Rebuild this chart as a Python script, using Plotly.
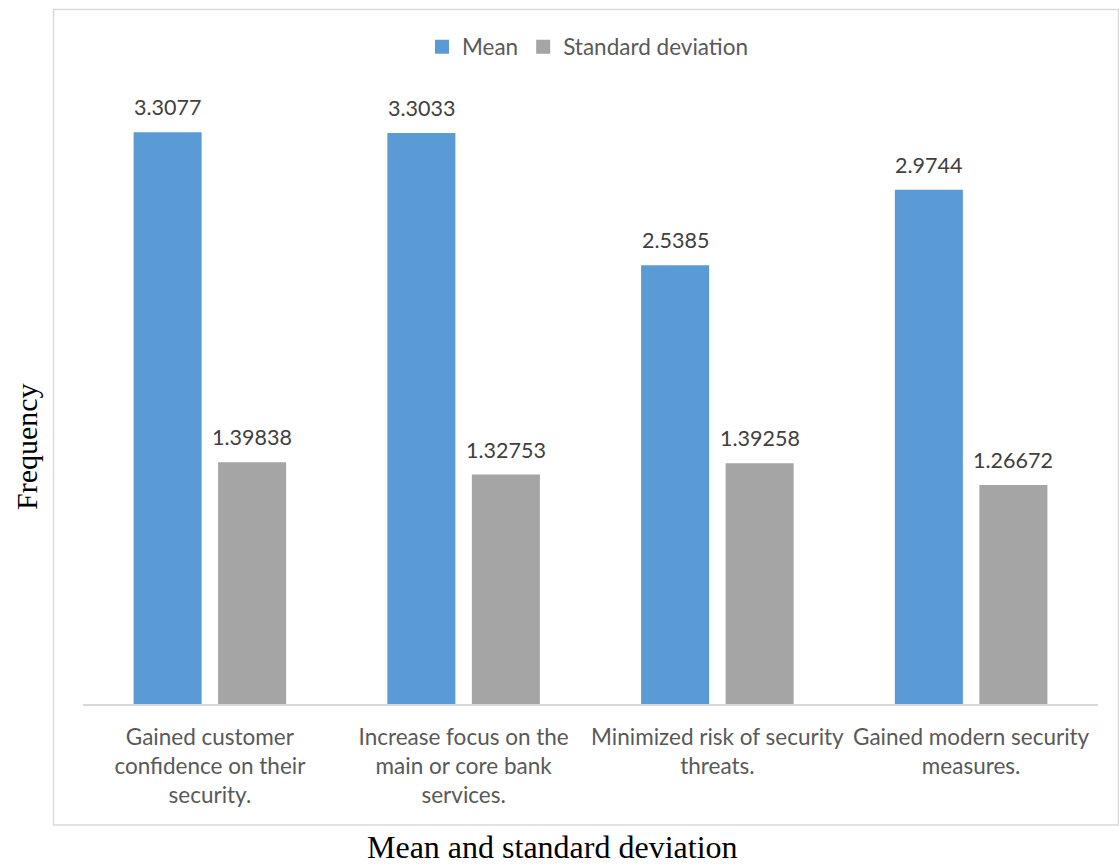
import plotly.graph_objects as go

# Survey items and their summary statistics
categories = [
    "Gained customer<br>confidence on their<br>security.",
    "Increase focus on the<br>main or core bank<br>services.",
    "Minimized risk of security<br>threats.",
    "Gained modern security<br>measures.",
]
mean_values = [3.3077, 3.3033, 2.5385, 2.9744]
std_values = [1.39838, 1.32753, 1.39258, 1.26672]
series_names = ["Mean", "Standard deviation"]

W, H = 1119, 867
L, R, T, B = 83, 21, 99, 163
plot_w = W - L - R
plot_h = H - T - B

BLUE = "#5B9BD5"
GRAY = "#A5A5A5"
TEXT = "#595959"
LABEL = "#404040"
FRAME = "#D9D9D9"
SANS = "Lato, 'Open Sans', sans-serif"
SERIF = "'Liberation Serif', 'Times New Roman', serif"


def px_x(p):
    return (p - L) / plot_w


def px_y(p):
    return (H - B - p) / plot_h


fig = go.Figure()
for name, vals, color in ((series_names[0], mean_values, BLUE),
                          (series_names[1], std_values, GRAY)):
    fig.add_trace(go.Bar(name=name, x=categories, y=vals, showlegend=False,
                         marker=dict(color=color, line=dict(width=0))))
    # square legend key for the series
    fig.add_trace(go.Scatter(name=name, x=[None], y=[None], mode="markers",
                             marker=dict(symbol="square", size=14, color=color),
                             showlegend=True, hoverinfo="skip"))

# value labels above each bar, offset to sit over its own bar in the group
slot = plot_w / len(categories) * (1 - 0.334) / 2
for vals, dx in ((mean_values, -slot / 2), (std_values, slot / 2)):
    for c, v in zip(categories, vals):
        fig.add_annotation(x=c, y=v, xref="x", yref="y", text=str(v),
                           showarrow=False, xshift=dx, yshift=25,
                           yanchor="middle", xanchor="center",
                           font=dict(family=SANS, size=21.5, color=LABEL))

# chart frame
fig.add_shape(type="rect", xref="paper", yref="paper",
              x0=px_x(53.5), x1=px_x(1118.5), y0=px_y(825), y1=px_y(9.5),
              line=dict(color=FRAME, width=1.5), fillcolor="rgba(0,0,0,0)",
              layer="below")

# axis titles
fig.add_annotation(x=px_x(27), y=px_y(447), xref="paper", yref="paper",
                   text="Frequency", textangle=-90, showarrow=False,
                   xanchor="center", yanchor="middle",
                   font=dict(family=SERIF, size=30, color="#000000"))
fig.add_annotation(x=px_x(552.5), y=px_y(866), xref="paper", yref="paper",
                   text="Mean and standard deviation", showarrow=False,
                   xanchor="center", yanchor="bottom", borderpad=0,
                   font=dict(family=SERIF, size=32, color="#000000"))

fig.update_layout(
    width=W, height=H,
    margin=dict(l=L, r=R, t=T, b=B, pad=0),
    paper_bgcolor="white", plot_bgcolor="white",
    barmode="group", bargap=0.334, bargroupgap=0.195,
    showlegend=True,
    legend=dict(orientation="h", x=px_x(588), xanchor="center",
                y=px_y(47), yanchor="middle", itemwidth=30,
                font=dict(family=SANS, size=22.5, color=TEXT),
                bgcolor="rgba(0,0,0,0)"),
    xaxis=dict(showline=True, linecolor=FRAME, linewidth=1.5,
               showgrid=False, ticks="", zeroline=False,
               tickfont=dict(family=SANS, size=22.5, color=TEXT),
               ticklabelstandoff=12),
    yaxis=dict(range=[0, 3.5], visible=False, showgrid=False,
               zeroline=False),
)

fig.write_html("out.html")
